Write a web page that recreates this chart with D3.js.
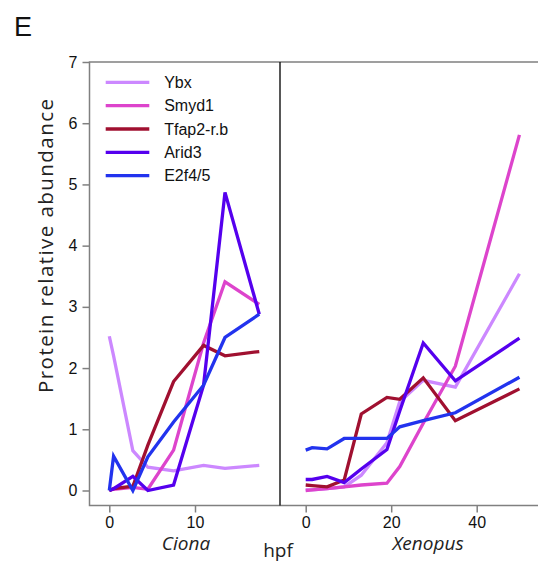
<!DOCTYPE html>
<html>
<head>
<meta charset="utf-8">
<script src="https://cdn.jsdelivr.net/npm/d3@7"></script>
<style>
  body { margin: 0; background: #fff; }
</style>
</head>
<body>
<svg id="chart" width="538" height="567"></svg>
<script>
// Protein names and colours
var proteins = ["Ybx", "Smyd1", "Tfap2-r.b", "Arid3", "E2f4/5"];
var colors = ["#cc88ff", "#dd44cc", "#a01030", "#5500ee", "#2233ee"];

// Ciona time points (hpf) and values
var cionaHpf = [0, 0.5, 2.75, 4.5, 7.5, 11, 13.5, 17.5];
var cionaYbx = [2.52, 2.2, 0.65, 0.38, 0.32, 0.41, 0.36, 0.41];
var cionaSmyd1 = [0, 0.02, 0.05, 0.02, 0.66, 2.41, 3.41, 3.04];
var cionaTfap2 = [0, 0.03, 0.07, 0.74, 1.78, 2.37, 2.2, 2.27];
var cionaArid3 = [0, 0.03, 0.23, 0, 0.09, 1.72, 4.87, 2.88];
var cionaE2f4 = [0, 0.56, 0, 0.55, 1.12, 1.72, 2.5, 2.88];

// Xenopus time points (hpf) and values
var xenHpf = [0, 1.5, 5, 9, 13, 19, 22, 27.5, 35, 50];
var xenYbx = [0.01, 0.01, 0.03, 0.06, 0.25, 0.78, 1.45, 1.8, 1.69, 3.54];
var xenSmyd1 = [0, 0.01, 0.03, 0.06, 0.09, 0.12, 0.39, 1.1, 2.03, 5.81];
var xenTfap2 = [0.09, 0.08, 0.06, 0.17, 1.25, 1.52, 1.49, 1.84, 1.14, 1.66];
var xenArid3 = [0.18, 0.18, 0.23, 0.13, 0.35, 0.67, 1.3, 2.41, 1.79, 2.49];
var xenE2f4 = [0.66, 0.7, 0.68, 0.85, 0.85, 0.85, 1.04, 1.14, 1.27, 1.85];

var yTicks = [0, 1, 2, 3, 4, 5, 6, 7];
var cionaTicks = [0, 10];
var xenTicks = [0, 20, 40];

var cionaSeries = [cionaYbx, cionaSmyd1, cionaTfap2, cionaArid3, cionaE2f4];
var xenSeries = [xenYbx, xenSmyd1, xenTfap2, xenArid3, xenE2f4];

// Layout
let frame = { left: 89.5, top: 62, bottom: 505.5, right: 540 },
  divider = 280,
  axisGrey = "#808080",
  tickFont = "'Liberation Sans', Arial, sans-serif",
  labelFont = "'Open Sans', Lato, sans-serif",
  lineWidth = 3.3;

var svg = d3.select("#chart");

var y = d3.scaleLinear().domain([0, 7]).range([490.5, 62]);
var xC = d3.scaleLinear().domain([0, 10]).range([109.3, 195]);
var xX = d3.scaleLinear().domain([0, 40]).range([305.7, 476.7]);

// Panel label
svg
  .append("text")
  .attr("x", 14)
  .attr("y", 36)
  .attr("font-family", tickFont)
  .attr("font-size", 27)
  .attr("fill", "#111")
  .text("E");

// Frame (left, top, bottom)
svg
  .append("path")
  .attr(
    "d",
    "M" + frame.right + "," + frame.top + "H" + frame.left + "V" + frame.bottom + "H" + frame.right
  )
  .attr("fill", "none")
  .attr("stroke", axisGrey)
  .attr("stroke-width", 1.5);

// Divider between species
svg
  .append("line")
  .attr("x1", divider)
  .attr("x2", divider)
  .attr("y1", frame.top)
  .attr("y2", frame.bottom)
  .attr("stroke", "#111")
  .attr("stroke-width", 1.4);

// Y axis
var yAxis = svg
  .append("g")
  .attr("transform", "translate(" + frame.left + ",0)")
  .call(d3.axisLeft(y).tickValues(yTicks).tickSize(7).tickPadding(5).tickFormat(d3.format("d")));
yAxis.select(".domain").remove();
yAxis.selectAll("line").attr("stroke", axisGrey).attr("stroke-width", 1.5);
yAxis.selectAll("text").attr("font-family", tickFont).attr("font-size", 16).attr("fill", "#111");

// X axes
function xAxis(scale, ticks) {
  var g = svg
    .append("g")
    .attr("transform", "translate(0," + frame.bottom + ")")
    .call(d3.axisBottom(scale).tickValues(ticks).tickSize(7).tickPadding(4).tickFormat(d3.format("d")));
  g.select(".domain").remove();
  g.selectAll("line").attr("stroke", axisGrey).attr("stroke-width", 1.5);
  g.selectAll("text").attr("font-family", tickFont).attr("font-size", 16).attr("fill", "#111");
}
xAxis(xC, cionaTicks);
xAxis(xX, xenTicks);

// Axis titles
svg
  .append("text")
  .attr("transform", "translate(53,246) rotate(-90)")
  .attr("text-anchor", "middle")
  .attr("font-family", labelFont)
  .attr("font-size", 20.5)
  .attr("textLength", 294)
  .attr("lengthAdjust", "spacing")
  .attr("fill", "#222")
  .text("Protein relative abundance");

svg
  .append("text")
  .attr("x", 186)
  .attr("y", 550)
  .attr("text-anchor", "middle")
  .attr("font-family", labelFont)
  .attr("font-style", "italic")
  .attr("font-size", 19)
  .attr("fill", "#222")
  .text("Ciona");

svg
  .append("text")
  .attr("x", 428)
  .attr("y", 550)
  .attr("text-anchor", "middle")
  .attr("font-family", labelFont)
  .attr("font-style", "italic")
  .attr("font-size", 19)
  .attr("fill", "#222")
  .text("Xenopus");

svg
  .append("text")
  .attr("x", 278)
  .attr("y", 557)
  .attr("text-anchor", "middle")
  .attr("font-family", labelFont)
  .attr("font-size", 19)
  .attr("fill", "#222")
  .text("hpf");

// Lines
function drawLines(times, series, scale) {
  var line = d3
    .line()
    .x((d, i) => scale(times[i]))
    .y(d => y(d));
  series.forEach((vals, k) => {
    svg
      .append("path")
      .datum(vals)
      .attr("d", line)
      .attr("fill", "none")
      .attr("stroke", colors[k])
      .attr("stroke-width", lineWidth)
      .attr("stroke-linejoin", "miter")
      .attr("stroke-linecap", "butt");
  });
}
drawLines(cionaHpf, cionaSeries, xC);
drawLines(xenHpf, xenSeries, xX);

// Legend
var legend = svg.append("g").attr("transform", "translate(105.7,82.3)");
proteins.forEach((p, i) => {
  legend
    .append("line")
    .attr("x1", 0)
    .attr("x2", 43.6)
    .attr("y1", i * 23.35)
    .attr("y2", i * 23.35)
    .attr("stroke", colors[i])
    .attr("stroke-width", lineWidth);
  legend
    .append("text")
    .attr("x", 58.5)
    .attr("y", i * 23.35)
    .attr("dy", "0.36em")
    .attr("font-family", tickFont)
    .attr("font-size", 16)
    .attr("fill", "#111")
    .text(p);
});
</script>
</body>
</html>
